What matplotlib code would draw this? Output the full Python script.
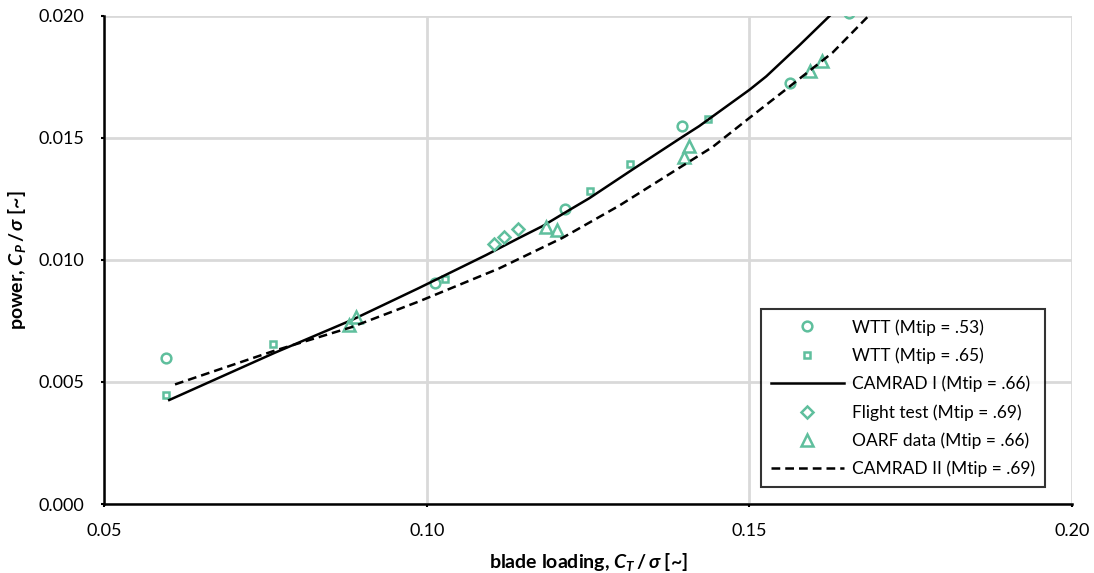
import matplotlib.pyplot as plt

plt.rcParams['font.family'] = ['Lato', 'DejaVu Sans']
plt.rcParams['mathtext.fontset'] = 'custom'
plt.rcParams['mathtext.it'] = 'Lato:italic:bold'
plt.rcParams['mathtext.rm'] = 'Lato:bold'
plt.rcParams['mathtext.bf'] = 'Lato:bold'

# data
wtt53_ct = [0.0596, 0.1012, 0.1214, 0.1396, 0.1562, 0.1654]
wtt53_cp = [0.00598, 0.00906, 0.01209, 0.01549, 0.01725, 0.02012]

wtt65_ct = [0.0596, 0.0762, 0.1028, 0.1253, 0.1315, 0.1436]
wtt65_cp = [0.00447, 0.00656, 0.00922, 0.01283, 0.01393, 0.01578]

flight_ct = [0.1104, 0.1120, 0.1141]
flight_cp = [0.01066, 0.01094, 0.01127]

oarf_ct = [0.0880, 0.0891, 0.1185, 0.1202, 0.1398, 0.1407, 0.1593, 0.1613]
oarf_cp = [0.00734, 0.00766, 0.01135, 0.01123, 0.01422, 0.01467, 0.01774, 0.01815]

cam1_ct = [0.0601, 0.0764, 0.0884, 0.0988, 0.1092, 0.1143, 0.1179, 0.1220,
           0.1252, 0.1318, 0.1396, 0.1422, 0.1500, 0.1526, 0.1578, 0.1629]
cam1_cp = [0.00426, 0.00619, 0.00754, 0.00885, 0.01020, 0.01090, 0.01138, 0.01203,
           0.01253, 0.01369, 0.01504, 0.01548, 0.01697, 0.01752, 0.01881, 0.02012]

cam2_ct = [0.0610, 0.0764, 0.0884, 0.0988, 0.1112, 0.1210, 0.1298, 0.1396,
           0.1443, 0.1500, 0.1562, 0.1629, 0.1689]
cam2_cp = [0.00490, 0.00628, 0.00725, 0.00830, 0.00965, 0.01090, 0.01222, 0.01385,
           0.01463, 0.01582, 0.01710, 0.01850, 0.02012]

green = '#5fbf9d'

fig = plt.figure(figsize=(10.94, 5.73), dpi=100)
ax = fig.add_axes([0.0951, 0.1204, 0.885, 0.852])

mk = dict(linestyle='none', markerfacecolor='none', markeredgecolor=green,
          markeredgewidth=1.8)
ax.plot(wtt53_ct, wtt53_cp, marker='o', markersize=7, label='WTT (Mtip = .53)', **mk)
ax.plot(wtt65_ct, wtt65_cp, marker='s', markersize=5, label='WTT (Mtip = .65)', **mk)
ax.plot(cam1_ct, cam1_cp, color='black', lw=1.8, label='CAMRAD I (Mtip = .66)')
ax.plot(flight_ct, flight_cp, marker='D', markersize=6, label='Flight test (Mtip = .69)', **mk)
ax.plot(oarf_ct, oarf_cp, marker='^', markersize=9, label='OARF data (Mtip = .66)', **mk)
ax.plot(cam2_ct, cam2_cp, color='black', lw=1.8, linestyle=(0, (3.5, 2)),
        label='CAMRAD II (Mtip = .69)')

ax.set_xlim(0.05, 0.20)
ax.set_ylim(0.0, 0.020)
ax.set_xticks([0.05, 0.10, 0.15, 0.20])
ax.set_yticks([0.000, 0.005, 0.010, 0.015, 0.020])
ax.set_xticklabels(['0.05', '0.10', '0.15', '0.20'])
ax.set_yticklabels(['0.000', '0.005', '0.010', '0.015', '0.020'])
ax.grid(True, color='#d9d9d9', lw=2)
ax.set_axisbelow(True)
for s in ['top', 'right']:
    ax.spines[s].set_visible(False)
for s in ['left', 'bottom']:
    ax.spines[s].set_linewidth(1.8)
ax.tick_params(labelsize=13, length=2, width=1.5, pad=12)

ax.set_xlabel(r'blade loading, $C_T\,/\,\sigma$ [~]', fontsize=14, fontweight='bold', labelpad=8)
ax.set_ylabel(r'power, $C_P\,/\,\sigma$ [~]', fontsize=14, fontweight='bold', labelpad=8)

leg = ax.legend(loc='lower right', bbox_to_anchor=(0.972, 0.035), borderaxespad=0,
                fontsize=12.5, frameon=True, fancybox=False, handlelength=4.2,
                borderpad=0.55, labelspacing=0.68, handletextpad=0.5)
leg.get_frame().set_edgecolor('black')
leg.get_frame().set_linewidth(1.5)

fig.savefig('out.png', dpi=100)
